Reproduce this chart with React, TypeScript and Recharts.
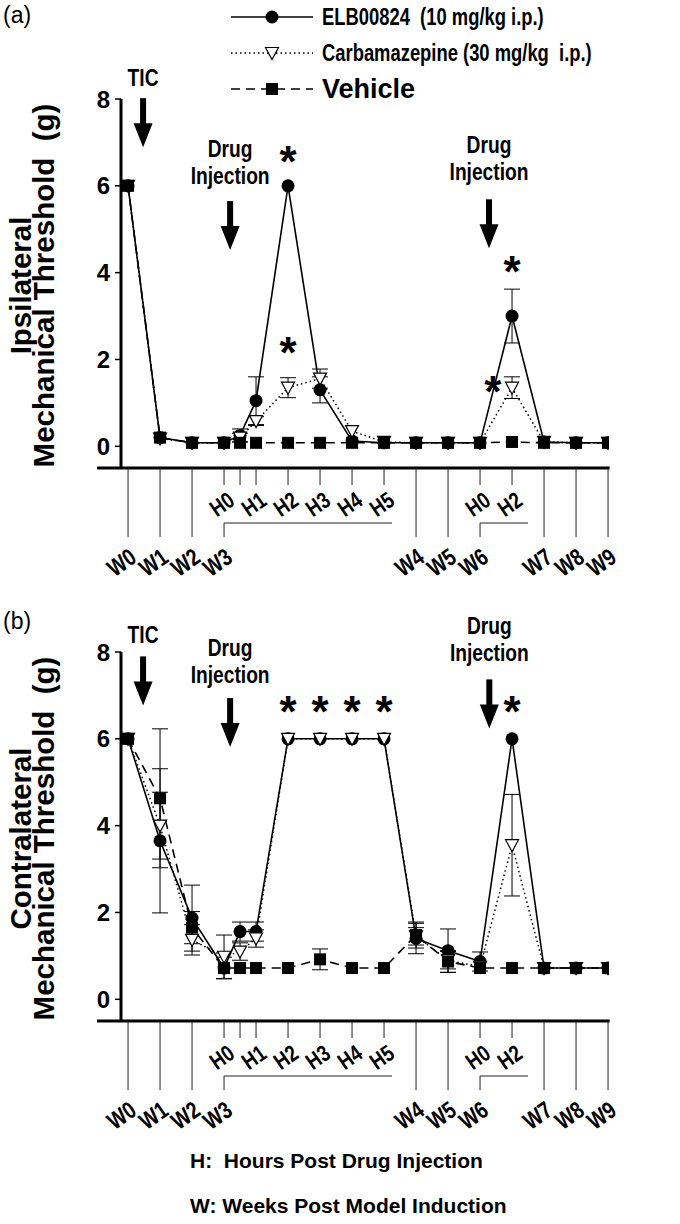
import React from "react";
import {
  LineChart,
  Line,
  XAxis,
  YAxis,
  ErrorBar,
  ReferenceDot,
  ReferenceLine,
} from "recharts";

const ARIAL = "'Liberation Sans', Arial, Helvetica, sans-serif";
// no narrow face installed, so condensed text is Liberation Sans squeezed horizontally
const NARROW_SCALE = 0.8;

// one numeric axis: weeks W0..W9 with the hourly points squeezed in after W3 and W6
const timePoints = [0, 1, 2, 3, 3.5, 4, 5, 6, 7, 8, 9, 10, 11, 12, 13, 14, 15];

const weekLabels: Record<number, string> = {
  0: "W0",
  1: "W1",
  2: "W2",
  3: "W3",
  9: "W4",
  10: "W5",
  11: "W6",
  13: "W7",
  14: "W8",
  15: "W9",
};
const hourLabels: Record<number, string> = {
  3: "H0",
  3.5: "",
  4: "H1",
  5: "H2",
  6: "H3",
  7: "H4",
  8: "H5",
  11: "H0",
  12: "H2",
};
// hour bracket runs from the week tick to this x value
const hourBrackets: Record<number, number> = { 3: 8.25, 11: 12.5 };

const yTicks = [0, 2, 4, 6, 8];

// (a) ipsilateral
const ipsiElb = [6.0, 0.2, 0.08, 0.08, 0.25, 1.05, 6.0, 1.3, 0.12, 0.08, 0.08, 0.08, 0.08, 3.0, 0.1, 0.08, 0.08];
const ipsiElbErr = [0, 0, 0, 0, 0.15, 0.55, 0, 0.3, 0, 0, 0, 0, 0, 0.62, 0, 0, 0];
const ipsiCarb = [6.0, 0.18, 0.08, 0.08, 0.2, 0.58, 1.35, 1.56, 0.35, 0.1, 0.08, 0.08, 0.08, 1.35, 0.1, 0.08, 0.08];
const ipsiCarbErr = [0, 0, 0, 0, 0.1, 0.1, 0.23, 0.22, 0, 0, 0, 0, 0, 0.25, 0, 0, 0];
const ipsiVeh = [6.0, 0.2, 0.08, 0.08, 0.08, 0.08, 0.08, 0.08, 0.08, 0.08, 0.08, 0.08, 0.08, 0.1, 0.08, 0.08, 0.08];
const ipsiVehErr = [0, 0, 0, 0, 0, 0, 0, 0, 0, 0, 0, 0, 0, 0, 0, 0, 0];

// (b) contralateral
const contraElb = [6.0, 3.65, 1.87, 0.72, 1.56, 1.56, 6.0, 6.0, 6.0, 6.0, 1.4, 1.12, 0.87, 6.0, 0.72, 0.72, 0.72];
const contraElbErr = [0, 1.66, 0.76, 0.25, 0.22, 0.22, 0, 0, 0, 0, 0.35, 0.5, 0.22, 0, 0, 0, 0];
const contraCarb = [6.0, 4.0, 1.37, 0.98, 1.1, 1.4, 6.0, 6.0, 6.0, 6.0, 1.45, 0.9, 0.75, 3.55, 0.72, 0.72, 0.72];
const contraCarbErr = [0, 0.77, 0.35, 0.5, 0.2, 0.2, 0, 0, 0, 0, 0.2, 0.2, 0, 1.17, 0, 0, 0];
const contraVeh = [6.0, 4.63, 1.65, 0.72, 0.72, 0.72, 0.72, 0.92, 0.72, 0.72, 1.48, 0.87, 0.72, 0.72, 0.72, 0.72, 0.72];
const contraVehErr = [0, 1.6, 0.37, 0, 0, 0, 0, 0.24, 0, 0, 0.3, 0.25, 0, 0, 0, 0, 0];

// annotations, in data coordinates
const ipsiStars = [[5, 6.78], [5, 2.37], [12, 4.25], [11.4, 1.48]];
const ipsiArrows = [[0.47, 6.89], [3.19, 4.52], [11.28, 4.56]];
const ipsiNotes = [
  { x: 0.47, y: 8.5, text: ["TIC"] },
  { x: 3.19, y: 6.86, text: ["Drug", "Injection"] },
  { x: 11.28, y: 6.94, text: ["Drug", "Injection"] },
];
const contraStars = [[5, 6.85], [6, 6.85], [7, 6.85], [8, 6.85], [12, 6.85]];
const contraArrows = [[0.47, 6.77], [3.19, 5.81], [11.29, 6.24]];
const contraNotes = [
  { x: 0.47, y: 8.39, text: ["TIC"] },
  { x: 3.19, y: 8.1, text: ["Drug", "Injection"] },
  { x: 11.29, y: 8.6, text: ["Drug", "Injection"] },
];

const legendNames = [
  "ELB00824  (10 mg/kg i.p.)",
  "Carbamazepine (30 mg/kg  i.p.)",
  "Vehicle",
];

const CHART_W = 680;
const CHART_H = 600;
const MARGIN = { top: 99, right: 71, bottom: 22, left: 61 };
const X_MIN = -0.22;
const X_MAX = 15.03;
const PX_PER_UNIT =
  (CHART_W - MARGIN.left - 60 - MARGIN.right) / (X_MAX - X_MIN);

const buildRows = (
  elb: number[],
  elbErr: number[],
  carb: number[],
  carbErr: number[],
  veh: number[],
  vehErr: number[],
) =>
  timePoints.map((t, i) => ({
    t,
    elb: elb[i],
    elbErr: elbErr[i],
    carb: carb[i],
    carbErr: carbErr[i],
    veh: veh[i],
    vehErr: vehErr[i],
  }));

const ipsiRows = buildRows(ipsiElb, ipsiElbErr, ipsiCarb, ipsiCarbErr, ipsiVeh, ipsiVehErr);
const contraRows = buildRows(contraElb, contraElbErr, contraCarb, contraCarbErr, contraVeh, contraVehErr);

// markers
const CircleDot = (p: any) =>
  p.cx == null ? null : <circle key={`c${p.index}`} cx={p.cx} cy={p.cy} r={6.5} fill="#000" />;
const TriangleDot = (p: any) =>
  p.cx == null ? null : (
    <polygon
      key={`t${p.index}`}
      points={`${p.cx - 6.5},${p.cy - 5.5} ${p.cx + 6.5},${p.cy - 5.5} ${p.cx},${p.cy + 6.5}`}
      fill="#fff"
      stroke="#000"
      strokeWidth={1.2}
    />
  );
const SquareDot = (p: any) =>
  p.cx == null ? null : (
    <rect key={`s${p.index}`} x={p.cx - 6} y={p.cy - 6} width={12} height={12} fill="#000" />
  );

function NarrowText({ x, y, angle = 0, anchor = "middle", size, baseline, children }: any) {
  return (
    <text
      transform={`translate(${x},${y}) rotate(${angle}) scale(${NARROW_SCALE},1)`}
      textAnchor={anchor}
      dominantBaseline={baseline}
      fontFamily={ARIAL}
      fontWeight={700}
      fontSize={size}
      fill="#000"
      style={{ whiteSpace: "pre" }}
    >
      {children}
    </text>
  );
}

function TimeTick({ x, y, payload }: any) {
  const v = payload.value;
  const h = hourLabels[v];
  const w = weekLabels[v];
  const br = hourBrackets[v];
  return (
    <g>
      {h !== undefined && (
        <line x1={x} x2={x} y1={y} y2={y + 17} stroke="#222" strokeWidth={1} />
      )}
      {h ? (
        <NarrowText x={x + 12} y={y + 36} angle={-35} anchor="end" size={23}>
          {h}
        </NarrowText>
      ) : null}
      {w !== undefined && (
        <line
          x1={x}
          x2={x}
          y1={h !== undefined ? y + 55 : y}
          y2={y + 69}
          stroke="#222"
          strokeWidth={1}
        />
      )}
      {br !== undefined && (
        <line
          x1={x}
          x2={x + (br - v) * PX_PER_UNIT}
          y1={y + 55}
          y2={y + 55}
          stroke="#222"
          strokeWidth={1}
        />
      )}
      {w !== undefined && (
        <NarrowText x={x + 10} y={y + 93} angle={-35} anchor="end" size={24}>
          {w}
        </NarrowText>
      )}
    </g>
  );
}

function YTitle({ viewBox, lines }: any) {
  const cy = viewBox.y + viewBox.height / 2 + 2;
  const xs = [31, 54];
  return (
    <g>
      {lines.map((s: string, i: number) => (
        <text
          key={i}
          x={xs[i]}
          y={cy}
          transform={`rotate(-90, ${xs[i]}, ${cy})`}
          textAnchor="middle"
          fontFamily={ARIAL}
          fontWeight={700}
          fontSize={29.5}
          fill="#000"
          style={{ whiteSpace: "pre" }}
        >
          {s}
        </text>
      ))}
    </g>
  );
}

const starShape = (p: any) => (
  <text
    x={p.cx}
    y={p.cy + 25}
    textAnchor="middle"
    fontFamily={ARIAL}
    fontWeight={700}
    fontSize={44}
    fill="#000"
  >
    *
  </text>
);

const arrowShape = (p: any) => {
  const { cx, cy } = p;
  return (
    <g>
      <rect x={cx - 3} y={cy - 49} width={6} height={27} fill="#000" />
      <polygon
        points={`${cx - 9.5},${cy - 24} ${cx + 9.5},${cy - 24} ${cx},${cy}`}
        fill="#000"
      />
    </g>
  );
};

const noteShape = (lines: string[]) => (p: any) => (
  <g>
    {lines.map((s, i) => (
      <NarrowText key={i} x={p.cx} y={p.cy + i * 27} baseline="central" size={24}>
        {s}
      </NarrowText>
    ))}
  </g>
);

function Panel({ rows, stars, arrows, notes, title }: any) {
  return (
    <LineChart width={CHART_W} height={CHART_H} data={rows} margin={MARGIN}>
      <XAxis
        dataKey="t"
        type="number"
        domain={[X_MIN, X_MAX]}
        ticks={timePoints}
        interval={0}
        allowDataOverflow
        axisLine={false}
        tickLine={false}
        tickSize={0}
        tickMargin={0}
        height={110}
        tick={<TimeTick />}
      />
      <YAxis
        type="number"
        domain={[-0.5, 8]}
        ticks={yTicks}
        allowDataOverflow
        width={60}
        axisLine={{ stroke: "#000", strokeWidth: 3 }}
        tickLine={{ stroke: "#000", strokeWidth: 1.5 }}
        tickSize={6}
        tickMargin={5}
        tick={{ fontFamily: ARIAL, fontWeight: 700, fontSize: 24, fill: "#000" }}
        label={(props: any) => <YTitle {...props} lines={title} />}
      />
      <ReferenceLine
        segment={[
          { x: -0.97, y: -0.5 },
          { x: 15.05, y: -0.5 },
        ]}
        stroke="#000"
        strokeWidth={3}
        ifOverflow="visible"
      />
      {arrows.map(([x, y]: number[], i: number) => (
        <ReferenceDot key={`a${i}`} x={x} y={y} ifOverflow="visible" shape={arrowShape} />
      ))}
      {notes.map((n: any, i: number) => (
        <ReferenceDot
          key={`n${i}`}
          x={n.x}
          y={n.y}
          ifOverflow="visible"
          shape={noteShape(n.text)}
        />
      ))}
      {stars.map(([x, y]: number[], i: number) => (
        <ReferenceDot key={`s${i}`} x={x} y={y} ifOverflow="visible" shape={starShape} />
      ))}
      <Line
        type="linear"
        dataKey="elb"
        stroke="#000"
        strokeWidth={1.6}
        dot={CircleDot}
        activeDot={false}
        isAnimationActive={false}
      >
        <ErrorBar dataKey="elbErr" width={8} stroke="#000" strokeWidth={1} direction="y" />
      </Line>
      <Line
        type="linear"
        dataKey="carb"
        stroke="#000"
        strokeWidth={1.5}
        strokeDasharray="1.5 3"
        dot={TriangleDot}
        activeDot={false}
        isAnimationActive={false}
      >
        <ErrorBar dataKey="carbErr" width={8} stroke="#000" strokeWidth={1} direction="y" />
      </Line>
      <Line
        type="linear"
        dataKey="veh"
        stroke="#000"
        strokeWidth={1.6}
        strokeDasharray="9 6"
        dot={SquareDot}
        activeDot={false}
        isAnimationActive={false}
      >
        <ErrorBar dataKey="vehErr" width={8} stroke="#000" strokeWidth={1} direction="y" />
      </Line>
    </LineChart>
  );
}

function LegendBox() {
  const rowsY = [17, 53, 89];
  const mx = 272;
  return (
    <svg width={680} height={110} style={{ position: "absolute", left: 0, top: 0 }}>
      {legendNames.map((name, i) => {
        const y = rowsY[i];
        const dash = i === 0 ? undefined : i === 1 ? "1.5 3" : "9 6";
        return (
          <g key={name}>
            <line x1={mx - 41} x2={mx + 41} y1={y} y2={y} stroke="#000" strokeWidth={1.6} strokeDasharray={dash} />
            {i === 0 && <CircleDot cx={mx} cy={y} index={0} />}
            {i === 1 && <TriangleDot cx={mx} cy={y} index={0} />}
            {i === 2 && <SquareDot cx={mx} cy={y} index={0} />}
            {i === 2 ? (
              <text
                x={mx + 50}
                y={y}
                dominantBaseline="central"
                fontFamily={ARIAL}
                fontWeight={700}
                fontSize={27}
                fill="#000"
              >
                {name}
              </text>
            ) : (
              <NarrowText x={mx + 50} y={y} anchor="start" baseline="central" size={23}>
                {name}
              </NarrowText>
            )}
          </g>
        );
      })}
    </svg>
  );
}

export default function App() {
  const textStyle: React.CSSProperties = {
    position: "absolute",
    fontFamily: ARIAL,
    color: "#000",
    whiteSpace: "pre",
  };
  return (
    <div
      style={{
        position: "absolute",
        left: 0,
        top: 0,
        width: 680,
        height: 1224,
        background: "#fff",
        overflow: "hidden",
      }}
    >
      <div style={{ position: "absolute", left: 0, top: 0 }}>
        <Panel
          rows={ipsiRows}
          stars={ipsiStars}
          arrows={ipsiArrows}
          notes={ipsiNotes}
          title={["Ipsilateral", "Mechanical Threshold  (g)"]}
        />
      </div>
      <div style={{ position: "absolute", left: 0, top: 553 }}>
        <Panel
          rows={contraRows}
          stars={contraStars}
          arrows={contraArrows}
          notes={contraNotes}
          title={["Contralateral", "Mechanical Threshold  (g)"]}
        />
      </div>
      <LegendBox />
      <div style={{ ...textStyle, left: 3, top: 2, fontSize: 23 }}>(a)</div>
      <div style={{ ...textStyle, left: 3, top: 608, fontSize: 23 }}>(b)</div>
      <div style={{ ...textStyle, left: 190, top: 1149, fontSize: 21, fontWeight: 700 }}>
        H:  Hours Post Drug Injection
      </div>
      <div style={{ ...textStyle, left: 190, top: 1194, fontSize: 21, fontWeight: 700 }}>
        W: Weeks Post Model Induction
      </div>
    </div>
  );
}
